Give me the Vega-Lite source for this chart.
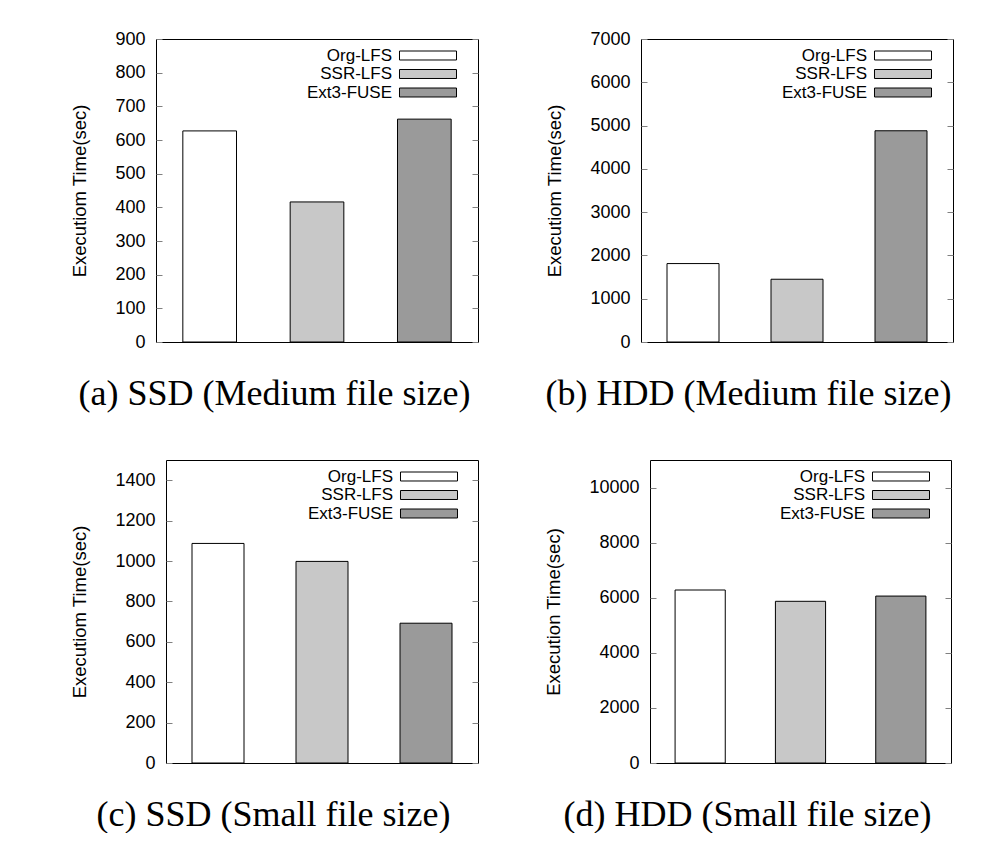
{
  "$schema": "https://vega.github.io/schema/vega-lite/v6.json",
  "padding": {"left": 4, "top": 29, "right": 0, "bottom": 0},
  "background": "white",
  "datasets": {
    "ssd_medium": [
      {"system": "Org-LFS", "time": 627},
      {"system": "SSR-LFS", "time": 416},
      {"system": "Ext3-FUSE", "time": 662}
    ],
    "hdd_medium": [
      {"system": "Org-LFS", "time": 1812},
      {"system": "SSR-LFS", "time": 1450},
      {"system": "Ext3-FUSE", "time": 4880}
    ],
    "ssd_small": [
      {"system": "Org-LFS", "time": 1087},
      {"system": "SSR-LFS", "time": 998},
      {"system": "Ext3-FUSE", "time": 692}
    ],
    "hdd_small": [
      {"system": "Org-LFS", "time": 6280},
      {"system": "SSR-LFS", "time": 5870},
      {"system": "Ext3-FUSE", "time": 6060}
    ],
    "empty": []
  },
  "config": {
    "view": {"stroke": "black", "strokeWidth": 1},
    "axis": {
      "grid": false, "domain": false,
      "labelFont": "Liberation Sans", "labelFontSize": 18, "labelColor": "black",
      "titleFont": "Liberation Sans", "titleFontSize": 18.5, "titleFontWeight": "normal", "titleColor": "black",
      "tickColor": "#808080", "tickSize": -6, "labelPadding": 17, "titlePadding": 25
    },
    "axisX": {"titleFont": "Liberation Serif", "titleFontSize": 36, "titlePadding": 34, "labels": false, "ticks": false},
    "legend": {
      "orient": "none",
      "symbolType": "M-3.353,-0.529H3.353V0.529H-3.353Z", "symbolSize": 289,
      "symbolStrokeColor": "black", "symbolStrokeWidth": 1, "symbolOpacity": 1,
      "labelAlign": "right", "labelOffset": -45,
      "labelFont": "Liberation Sans", "labelFontSize": 17, "labelColor": "black",
      "padding": 0, "rowPadding": 1.5
    }
  },
  "spacing": 47,
  "resolve": {"scale": {"fill": "independent"}, "legend": {"fill": "independent"}},
  "vconcat": [
    {
      "spacing": 65,
      "resolve": {"scale": {"fill": "independent"}, "legend": {"fill": "independent"}},
      "hconcat": [
        {
          "width": 1, "height": 303,
          "data": {"name": "empty"},
          "view": {"stroke": null},
          "mark": {"type": "rule"},
          "encoding": {}
        },
        {
          "width": 322, "height": 303,
          "data": {"name": "ssd_medium"},
          "layer": [
            {
              "mark": {"type": "bar", "stroke": "black", "strokeWidth": 1},
              "encoding": {
                "x": {"field": "system", "type": "nominal", "sort": ["Org-LFS", "SSR-LFS", "Ext3-FUSE"],
                      "scale": {"paddingInner": 0.5, "paddingOuter": 0.25},
                      "axis": {"title": "(a) SSD (Medium file size)", "titleX": 118}},
                "y": {"field": "time", "type": "quantitative", "scale": {"domain": [0, 900], "nice": false},
                      "axis": {"values": [0, 100, 200, 300, 400, 500, 600, 700, 800, 900], "format": "d", "title": "Executiom Time(sec)"}},
                "fill": {"field": "system", "type": "nominal",
                         "scale": {"domain": ["Org-LFS", "SSR-LFS", "Ext3-FUSE"], "range": ["#ffffff", "#c8c8c8", "#9a9a9a"]},
                         "legend": {"title": null, "legendX": 263, "legendY": 7.5}}
              }
            },
            {
              "mark": {"type": "rule", "strokeOpacity": 0},
              "encoding": {
                "y": {"field": "time", "type": "quantitative",
                      "axis": {"orient": "right", "values": [0, 100, 200, 300, 400, 500, 600, 700, 800, 900], "labels": false, "title": null}}
              }
            }
          ],
          "resolve": {"axis": {"y": "independent"}}
        },
        {
          "width": 312, "height": 303,
          "data": {"name": "hdd_medium"},
          "layer": [
            {
              "mark": {"type": "bar", "stroke": "black", "strokeWidth": 1},
              "encoding": {
                "x": {"field": "system", "type": "nominal", "sort": ["Org-LFS", "SSR-LFS", "Ext3-FUSE"],
                      "scale": {"paddingInner": 0.5, "paddingOuter": 0.25},
                      "axis": {"title": "(b) HDD (Medium file size)", "titleX": 107}},
                "y": {"field": "time", "type": "quantitative", "scale": {"domain": [0, 7000], "nice": false},
                      "axis": {"values": [0, 1000, 2000, 3000, 4000, 5000, 6000, 7000], "format": "d", "title": "Executiom Time(sec)"}},
                "fill": {"field": "system", "type": "nominal",
                         "scale": {"domain": ["Org-LFS", "SSR-LFS", "Ext3-FUSE"], "range": ["#ffffff", "#c8c8c8", "#9a9a9a"]},
                         "legend": {"title": null, "legendX": 253, "legendY": 7.5}}
              }
            },
            {
              "mark": {"type": "rule", "strokeOpacity": 0},
              "encoding": {
                "y": {"field": "time", "type": "quantitative",
                      "axis": {"orient": "right", "values": [0, 1000, 2000, 3000, 4000, 5000, 6000, 7000], "labels": false, "title": null}}
              }
            }
          ],
          "resolve": {"axis": {"y": "independent"}}
        }
      ]
    },
    {
      "spacing": 65,
      "resolve": {"scale": {"fill": "independent"}, "legend": {"fill": "independent"}},
      "hconcat": [
        {
          "width": 1, "height": 303,
          "data": {"name": "empty"},
          "view": {"stroke": null},
          "mark": {"type": "rule"},
          "encoding": {}
        },
        {
          "width": 312, "height": 303,
          "data": {"name": "ssd_small"},
          "layer": [
            {
              "mark": {"type": "bar", "stroke": "black", "strokeWidth": 1},
              "encoding": {
                "x": {"field": "system", "type": "nominal", "sort": ["Org-LFS", "SSR-LFS", "Ext3-FUSE"],
                      "scale": {"paddingInner": 0.5, "paddingOuter": 0.25},
                      "axis": {"title": "(c) SSD (Small file size)", "titleX": 107}},
                "y": {"field": "time", "type": "quantitative", "scale": {"domain": [0, 1500], "nice": false},
                      "axis": {"values": [0, 200, 400, 600, 800, 1000, 1200, 1400], "format": "d", "title": "Executiom Time(sec)"}},
                "fill": {"field": "system", "type": "nominal",
                         "scale": {"domain": ["Org-LFS", "SSR-LFS", "Ext3-FUSE"], "range": ["#ffffff", "#c8c8c8", "#9a9a9a"]},
                         "legend": {"title": null, "legendX": 254, "legendY": 7.5}}
              }
            },
            {
              "mark": {"type": "rule", "strokeOpacity": 0},
              "encoding": {
                "y": {"field": "time", "type": "quantitative",
                      "axis": {"orient": "right", "values": [0, 200, 400, 600, 800, 1000, 1200, 1400], "labels": false, "title": null}}
              }
            }
          ],
          "resolve": {"axis": {"y": "independent"}}
        },
        {
          "width": 301, "height": 303,
          "data": {"name": "hdd_small"},
          "layer": [
            {
              "mark": {"type": "bar", "stroke": "black", "strokeWidth": 1},
              "encoding": {
                "x": {"field": "system", "type": "nominal", "sort": ["Org-LFS", "SSR-LFS", "Ext3-FUSE"],
                      "scale": {"paddingInner": 0.5, "paddingOuter": 0.25},
                      "axis": {"title": "(d) HDD (Small file size)", "titleX": 97}},
                "y": {"field": "time", "type": "quantitative", "scale": {"domain": [0, 11000], "nice": false},
                      "axis": {"values": [0, 2000, 4000, 6000, 8000, 10000], "format": "d", "title": "Execution Time(sec)"}},
                "fill": {"field": "system", "type": "nominal",
                         "scale": {"domain": ["Org-LFS", "SSR-LFS", "Ext3-FUSE"], "range": ["#ffffff", "#c8c8c8", "#9a9a9a"]},
                         "legend": {"title": null, "legendX": 242, "legendY": 7.5}}
              }
            },
            {
              "mark": {"type": "rule", "strokeOpacity": 0},
              "encoding": {
                "y": {"field": "time", "type": "quantitative",
                      "axis": {"orient": "right", "values": [0, 2000, 4000, 6000, 8000, 10000], "labels": false, "title": null}}
              }
            }
          ],
          "resolve": {"axis": {"y": "independent"}}
        }
      ]
    }
  ]
}
